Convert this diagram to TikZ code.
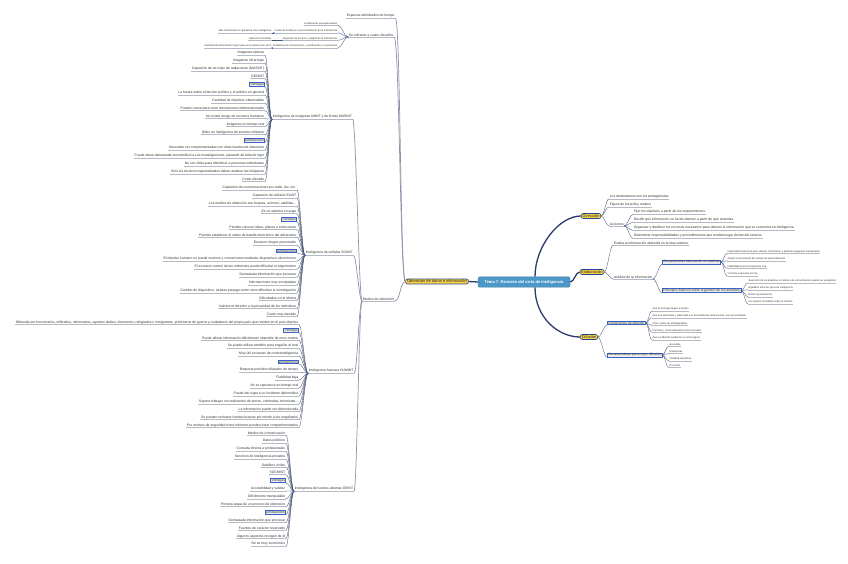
\documentclass[tikz,border=0pt]{standalone}
\usepackage{fontspec}
\setmainfont{Liberation Sans}
\definecolor{cLeaf}{HTML}{4B5675}
\definecolor{cUl}{HTML}{B4B9C6}
\definecolor{cMain}{HTML}{8C93A8}
\definecolor{cRootLine}{HTML}{2C3C6A}
\definecolor{cRoot}{HTML}{4B98C8}
\definecolor{cYel}{HTML}{F7D34A}
\definecolor{cBx}{HTML}{3B63C4}
\definecolor{cDot}{HTML}{3D6FD6}
\tikzset{
  lf/.style={font=\fontsize{3.4}{3.9}\selectfont, text=black!80, inner xsep=0.6pt, inner ysep=0.5pt},
  sm/.style={font=\fontsize{2.55}{3}\selectfont, text=black!80, inner xsep=0.5pt, inner ysep=0.4pt},
  bx/.style={lf, draw=cBx, line width=0.55pt, fill=black!8, inner xsep=1pt},
  lf-u/.style={draw=cUl, line width=0.5pt},
  sm-u/.style={draw=cUl, line width=0.45pt},
  bx-u/.style={draw=none},
  ybox/.style={draw=cBx!70!black, fill=cYel, line width=0.6pt, rounded corners=2pt,
    font=\fontsize{4}{4.6}\selectfont, text=black!85, inner xsep=1.5pt, inner ysep=1pt},
  rootbox/.style={draw=cRoot!80!black, fill=cRoot, rounded corners=1.5pt, minimum width=92pt,
    minimum height=10pt, text=white, font=\bfseries\fontsize{4}{4.6}\selectfont},
  leafline/.style={draw=cLeaf, line width=0.35pt},
  midline/.style={draw=cMain, line width=0.7pt},
  rootline/.style={draw=cRootLine, line width=1.3pt},
  bdot/.style={fill=cDot, circle, inner sep=0pt, minimum size=1.6pt}
}
\newcommand\leftgroup[5]{%
  \foreach \s/\t [count=\i from 0] in {#5}{
    \pgfmathsetmacro\yy{53+(#4+\i)*7.92}
    \node[\s, anchor=east] (#1\i) at (#3,\yy) {\t};
    \path[\s-u] (#1\i.south west) -- (#1\i.south east);
    \draw[leafline] (#2.south west) .. controls +(-3,0) and +(3,0) .. (#1\i.south east);
  }}
\newcommand\rightgroup[5]{%
  \foreach \s/\yv/\t [count=\i] in {#5}{
    \node[\s, anchor=west] (#1\i) at (#3,\yv) {\t};
    \path[\s-u] (#1\i.south west) -- (#1\i.south east);
    \draw[leafline] (#2) .. controls +(3,0) and +(-3,0) .. (#1\i.south west);
  }}
\begin{document}
\begin{tikzpicture}[x=1pt,y=-1pt]
\useasboundingbox[fill=white] (0,0) rectangle (848,564);

% root and main branch
\node[rootbox] (root) at (524,282) {Tema 7. Revisión del ciclo de inteligencia};
\node[ybox] (obt) at (437,281.5) {Obtención de datos e información};
\draw[rootline] (root.west) -- (obt.east);

% top branches
\node[lf, anchor=west] (espacios) at (346,16) {Espacios delimitados de tiempo};
\node[lf, anchor=west] (enfrenta) at (348,35) {Se enfrenta a cuatro desafíos};
\node[lf, anchor=west] (medios) at (362,299) {Medios de obtención};
\foreach \n in {espacios,enfrenta,medios}{
  \path[lf-u] (\n.south west) -- (\n.south east);
  \draw[midline] (obt.west) .. controls +(-5,0) and +(5,0) .. (\n.south east);
}

\node[sm, anchor=east] (d1) at (338,23.5) {Limitaciones presupuestarias};
\node[sm, anchor=east] (d2) at (338,31) {Cuello de botella en el procesamiento de la información};
\node[sm, anchor=east] (d3) at (338,38.5) {Negación de acceso y engaño de la información};
\node[sm, anchor=east] (d4) at (338,46) {Problemas de comunicación, coordinación y cooperación};
\node[sm, anchor=east] (g2) at (272,31) {Más información no garantiza más inteligencia};
\node[sm, anchor=east] (g3) at (272,38.5) {Operación Fortitude};
\node[sm, anchor=east] (g4) at (272,46) {Cantidad de información mayor para unos países que otros};
\foreach \n in {d1,d2,d3,d4,g2,g3,g4}{\path[sm-u] (\n.south west) -- (\n.south east);}
\foreach \n in {d1,d2,d3,d4}{\draw[leafline] (enfrenta.south west) .. controls +(-4,0) and +(4,0) .. (\n.south east);}
\foreach \n in {2,3,4}{\draw[leafline] (d\n.south west) -- (g\n.south east);}

% intelligence types
\node[lf, anchor=west] (imint) at (272,117) {Inteligencia de imágenes IMINT y de firmas MASINT};
\node[lf, anchor=west] (sigint) at (305,253) {Inteligencia de señales SIGINT};
\node[lf, anchor=west] (humint) at (308,371) {Inteligencia humana HUMINT};
\node[lf, anchor=west] (osint) at (294,489) {Inteligencia de fuentes abiertas OSINT};
\foreach \n in {imint,sigint,humint,osint}{
  \path[lf-u] (\n.south west) -- (\n.south east);
  \draw[midline] (medios.south west) .. controls +(-3,0) and +(3,0) .. (\n.south east);
}

\leftgroup{im}{imint}{265}{0}{lf/{Imágenes ópticas}, lf/{Imágenes infrarrojas},
 lf/{Captación de otro tipo de radiaciones (MASINT)}, lf/{GEOINT}, bx/{Ventajas},
 lf/{La fuerza sobre el decisor político y el público en general},
 lf/{Cantidad de objetivos observables},
 lf/{Pueden verse para crear simulaciones tridimensionales},
 lf/{No existe riesgo de recursos humanos}, lf/{Imágenes en tiempo real},
 lf/{Útiles en inteligencia de asuntos militares}, bx/{Limitaciones},
 lf/{Necesitan ser complementadas con otras fuentes de obtención},
 lf/{Puede darse demasiada verosimilitud a sus investigaciones, pasando de falta de rigor},
 lf/{No son útiles para identificar a personas individuales},
 lf/{Solo los técnicos especializados deben analizar las imágenes},
 lf/{Coste elevado}}

\leftgroup{sg}{sigint}{297}{17}{lf/{Captación de comunicaciones por radio, fax, etc.},
 lf/{Captación de señales ELINT},
 lf/{Los medios de obtención son buques, aviones, satélites...},
 lf/{Es un sistema en auge}, bx/{Ventajas},
 lf/{Permite conocer ideas, planes e intenciones},
 lf/{Permite establecer el orden de batalla electrónico del adversario},
 lf/{Escasos riesgos personales}, bx/{Limitaciones},
 lf/{El objetivo humano no puede reunirse y comunicarse mediante dispositivos electrónicos},
 lf/{El excesivo control de las emisiones puede dificultar el seguimiento},
 lf/{Demasiada información que procesar}, lf/{Informaciones muy encriptadas},
 lf/{Cambio de dispositivo, tarjetas prepago entre otros dificultan la investigación},
 lf/{Dificultades en el idioma},
 lf/{Vulnera el derecho a la privacidad de los individuos},
 lf/{Coste muy elevado}}

\leftgroup{hu}{humint}{299}{34}{lf/{Obtenida por funcionarios, infiltrados, informantes, agentes dobles, desertores, refugiados o inmigrantes, prisioneros de guerra y ciudadanos del propio país que residen en el país objetivo},
 bx/{Ventajas},
 lf/{Puede aflorar información difícilmente obtenible de otros modos},
 lf/{Se puede utilizar también para engañar al rival},
 lf/{Muy útil en tareas de contrainteligencia}, bx/{Limitaciones},
 lf/{Requiere periodos dilatados de tiempo}, lf/{Fiabilidad baja},
 lf/{No se reproduce en tiempo real},
 lf/{Puede dar lugar a un incidente diplomático},
 lf/{Supone trabajar con traficantes de armas, criminales, terroristas...},
 lf/{La información puede ser distorsionada},
 lf/{Se pueden rechazar fuentes buenas por miedo a ser engañados},
 lf/{Por motivos de seguridad estos informes pueden estar compartimentados}}

\leftgroup{os}{osint}{286}{48}{lf/{Medios de comunicación}, lf/{Datos públicos},
 lf/{Consulta directa a profesionales}, lf/{Servicios de inteligencia privados},
 lf/{Satélites civiles}, lf/{SOCMINT}, bx/{Ventajas},
 lf/{Accesibilidad y validez}, lf/{Difícilmente manipulable},
 lf/{Primera etapa de un proceso de obtención}, bx/{Limitaciones},
 lf/{Demasiada información que procesar}, lf/{Fuentes de carácter reservado},
 lf/{Algunos aspectos recogen de él}, lf/{No es muy económico}}

% right side
\node[ybox] (dir) at (591,216) {Dirección};
\node[ybox] (ela) at (592,272) {Elaboración};
\node[ybox] (dif) at (589,337) {Difusión};
\draw[rootline] ([xshift=11pt]root.north) .. controls +(0,-30) and +(-22,0) .. (dir.west);
\draw[rootline] (root.east) .. controls +(4,0) and +(-4,0) .. (ela.west);
\draw[rootline] ([xshift=11pt]root.south) .. controls +(0,30) and +(-22,0) .. (dif.west);

\rightgroup{r}{dir.east}{609}{}{lf/196.5/{Los destinatarios son los protagonistas},
 lf/204.5/{Figura de los policy makers}, lf/224/{Acciones}}
\rightgroup{a}{r3.south east}{633}{}{lf/212/{Fijar los objetivos a partir de los requerimientos},
 lf/220/{Decidir qué información se ha de obtener a partir de qué sistemas},
 lf/228/{Organizar y distribuir los recursos necesarios para obtener la información que se convertirá en inteligencia},
 lf/236/{Determinar responsabilidades y procedimientos que tendrán lugar dentro del servicio}}

\rightgroup{e}{ela.east}{613}{}{lf/243/{Evalúa la información obtenida en la fase anterior},
 lf/277/{Análisis de la información}}
\rightgroup{b}{e2.south east}{662}{}{bx/262/{Competencias básicas de un analista},
 bx/290.5/{Principios básicos sobre la gestión de los analistas}}
\rightgroup{c}{b1.east}{727}{}{sm/251.5/{Capacidad intelectual para obtener información y plantear preguntas interesantes},
 sm/259/{Amplio conocimiento del campo de especialización},
 sm/266.5/{Habilidades para la expresión oral},
 sm/274/{Correcta expresión escrita}}
\rightgroup{p}{b2.east}{748}{}{sm/281/{Selección de los analistas, el número de conocimientos puede ser perjudicial},
 sm/288/{Equilibrio entre los tipos de inteligencia},
 sm/295/{Evitar la polarización},
 sm/302/{No separar al analista sobre el informe}}

\rightgroup{f}{dif.east}{607}{}{bx/323/{Condiciones de difusión},
 bx/355/{Características para mejor difusión}}
\rightgroup{k}{f1.east}{652}{}{sm/309/{Que el mensaje llegue a tiempo},
 sm/316/{Que sea pertinente y adecuado a la necesidad de cada usuario, que sea prioritario},
 sm/323.5/{Claro y libre de ambigüedades},
 sm/330.5/{Formato y canal adecuado para el receptor},
 sm/338/{Que se difunda mediante un canal seguro}}
\rightgroup{m}{f2.east}{669}{}{sm/344.5/{Accesible}, sm/352/{Relevantes},
 sm/359/{Claridad expositiva}, sm/366/{Precisión}}

% expand markers
\foreach \p in {enfrenta.south west, d2.south west, d3.south west, d4.south west,
  imint.south west, sigint.south west, humint.south west, osint.south west,
  r3.south east, e2.south east, b1.east, b2.east, f1.east, f2.east}{
  \node[bdot] at (\p) {};
}
\end{tikzpicture}
\end{document}
